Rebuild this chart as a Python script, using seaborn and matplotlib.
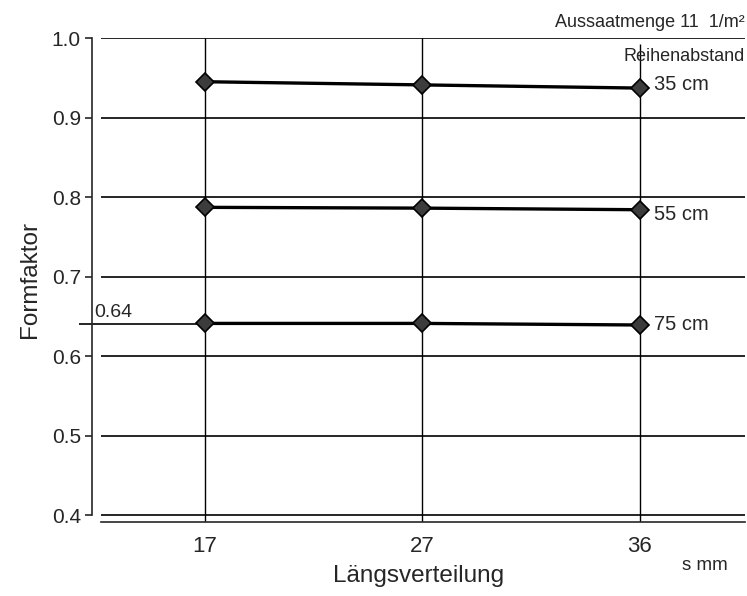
import pandas as pd
import matplotlib.pyplot as plt
import seaborn as sns

# Längsverteilung s (mm) und Formfaktor je Reihenabstand
s_mm = ['17', '27', '36']
reihen = ['35 cm', '55 cm', '75 cm']
ff_35 = [0.945, 0.941, 0.937]
ff_55 = [0.787, 0.786, 0.784]
ff_75 = [0.641, 0.641, 0.639]
y_ticks = [0.4, 0.5, 0.6, 0.7, 0.8, 0.9, 1.0]
ref_wert = 0.64

df = pd.DataFrame({
    's': s_mm * 3,
    'Formfaktor': ff_35 + ff_55 + ff_75,
    'Reihenabstand': [r for r in reihen for _ in s_mm],
})

sns.set_style('white')
plt.rcParams['font.family'] = ['Liberation Sans', 'DejaVu Sans']

fig = plt.figure(figsize=(7.47, 5.96), dpi=100)
ax = fig.add_axes([92/747, 1-522/596, (745-92)/747, (522-38)/596])

x0, x1 = -0.5195, 2.483
ax.set_xlim(x0, x1)
ax.set_ylim(0.3912, 1.0)

# Gitter
ax.hlines(y_ticks, -0.48, x1, color='black', lw=1.2, zorder=1)
ax.hlines(ref_wert, x0 - 0.06, 0, color='black', lw=1.2, zorder=1, clip_on=False)
for i in range(len(s_mm)):
    top = 1.0 if i < 2 else 0.993
    ax.vlines(i, 0.3912, top, color='black', lw=1.0, zorder=1)

sns.lineplot(data=df, x='s', y='Formfaktor', hue='Reihenabstand',
             palette={r: 'black' for r in reihen}, marker='D', markersize=9.5,
             markerfacecolor='#3c3c3c', markeredgecolor='black', markeredgewidth=1.2,
             lw=2.4, legend=False, ax=ax, zorder=3)

# Beschriftung der Kurven
offsets = [0.004, -0.006, 0.0]
for r, vals, off in zip(reihen, [ff_35, ff_55, ff_75], offsets):
    ax.text(2.065, vals[-1] + off, r, fontsize=14.5, va='center', ha='left')
ax.text(-0.51, ref_wert + 0.004, '0.64', fontsize=14, ha='left', va='bottom')

fig.text(745/747, 1-27/596, 'Aussaatmenge 11  1/m²', fontsize=13, ha='right', va='baseline')
fig.text(745/747, 1-61/596, 'Reihenabstand', fontsize=13, ha='right', va='baseline')
fig.text(728/747, 1-570/596, 's mm', fontsize=13.5, ha='right', va='baseline')

ax.set_xticks(range(len(s_mm)))
ax.set_xticklabels(s_mm)
ax.set_yticks(y_ticks)
ax.set_yticklabels([f'{v:.1f}' for v in y_ticks])
ax.tick_params(axis='x', direction='out', length=6, width=1.0, labelsize=16, pad=4)
ax.tick_params(axis='y', direction='out', length=5, width=1.2, labelsize=15, pad=3, left=True)

ax.set_xlabel('Längsverteilung', fontsize=17.5, labelpad=6)
ax.set_ylabel('Formfaktor', fontsize=17.5, labelpad=8)

for side in ['top', 'right']:
    ax.spines[side].set_visible(False)
ax.spines['left'].set_bounds(0.4, 1.0)
ax.spines['left'].set_linewidth(1.2)
ax.spines['bottom'].set_bounds(-0.48, x1)
ax.spines['bottom'].set_linewidth(1.2)

plt.savefig('out.png', dpi=100)
